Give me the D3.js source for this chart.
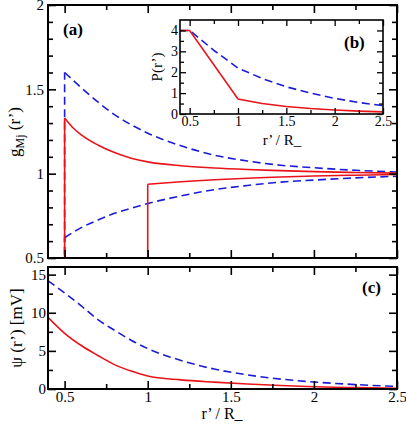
<!DOCTYPE html>
<html><head><meta charset="utf-8">
<script src="https://cdn.jsdelivr.net/npm/d3@7"></script>
<style>body{margin:0;background:#fff}svg{display:block}text{font-family:"Liberation Serif","Times New Roman",serif}</style>
</head><body>
<script>
// ---------- data ----------
// panel (a): pair distribution g_Mj(r')
const rG = [0.5, 0.55, 0.6, 0.7, 0.8, 0.9, 1.0, 1.2, 1.4, 1.6, 1.8, 2.0, 2.25, 2.5];
const gBlueUpper = [1.60, 1.555, 1.51, 1.425, 1.35, 1.29, 1.24, 1.165, 1.11, 1.075, 1.05, 1.035, 1.02, 1.01];
const gRedUpper  = [1.33, 1.272, 1.23, 1.17, 1.125, 1.092, 1.07, 1.047, 1.034, 1.025, 1.018, 1.012, 1.007, 1.003];
const gBlueLower = [0.62, 0.652, 0.68, 0.725, 0.765, 0.795, 0.823, 0.868, 0.905, 0.93, 0.95, 0.962, 0.975, 0.985];
const rGRedLower = [1.0, 1.2, 1.4, 1.6, 1.8, 2.0, 2.25, 2.5];
const gRedLower  = [0.937, 0.952, 0.964, 0.973, 0.98, 0.986, 0.991, 0.995];
// panel (b): P(r')
const rPRed  = [0.4, 0.5, 1.0, 1.25, 1.5, 1.75, 2.0, 2.25, 2.5];
const pRed   = [4, 4, 0.72, 0.5, 0.36, 0.26, 0.19, 0.14, 0.1];
const rPBlue = [0.4, 0.5, 0.75, 1.0, 1.25, 1.5, 1.75, 2.0, 2.25, 2.5];
const pBlue  = [4, 4, 3.05, 2.2, 1.7, 1.3, 1.0, 0.75, 0.55, 0.4];
// panel (c): psi(r') [mV]
const rPsi    = [0.4, 0.5, 0.6, 0.7, 0.8, 0.9, 1.0, 1.2, 1.4, 1.6, 1.8, 2.0, 2.25, 2.5];
const psiBlue = [14.2, 12.6, 10.9, 9.1, 7.7, 6.4, 5.3, 3.75, 2.62, 1.85, 1.3, 0.92, 0.58, 0.33];
const psiRed  = [9.4, 7.3, 5.7, 4.4, 3.2, 2.35, 1.7, 1.2, 0.9, 0.65, 0.45, 0.3, 0.18, 0.08];
// ticks
const xMajor = [0.5, 1, 1.5, 2, 2.5];
const xMinor = [0.75, 1.25, 1.75, 2.25];
const gMajor = [0.5, 1, 1.5, 2];
const gMinor = [0.6,0.7,0.8,0.9,1.1,1.2,1.3,1.4,1.6,1.7,1.8,1.9];
const psiMajor = [0, 5, 10, 15];
const psiMinor = [2.5, 7.5, 12.5];
const pMajor = [0, 1, 2, 3, 4];
const pMinor = [0.5, 1.5, 2.5, 3.5];

const RED = "#e8141a", BLUE = "#1c1cd8";

// ---------- scales ----------
const W = 406, H = 425;
const xMain = d3.scaleLinear().domain([0.4, 2.5]).range([48, 397]);
const yG = d3.scaleLinear().domain([0.5, 2]).range([258, 5]);
const yPsi = d3.scaleLinear().domain([0, 16]).range([389, 267]);
const xIn = d3.scaleLinear().domain([0.4, 2.5]).range([180, 383]);
const yIn = d3.scaleLinear().domain([0, 4.5]).range([114, 20]);

const svg = d3.select("body").append("svg").attr("width", W).attr("height", H);
const defs = svg.append("defs");

function clip(id, x, y) {
  defs.append("clipPath").attr("id", id).append("rect")
    .attr("x", x.range()[0]).attr("y", y.range()[1])
    .attr("width", x.range()[1] - x.range()[0]).attr("height", y.range()[0] - y.range()[1]);
}
clip("cA", xMain, yG); clip("cC", xMain, yPsi); clip("cB", xIn, yIn);

function frame(x, y, xMaj, xMin, yMaj, yMin, opt) {
  const g = svg.append("g");
  const [x0, x1] = x.range(), [y0, y1] = [y.range()[1], y.range()[0]];
  const M = opt.major, m = opt.minor, sw = opt.sw, fs = opt.fs;
  const fmt = d => d3.format("~g")(d);
  const add = (axis, tr, vals, len, labels) => {
    const a = g.append("g").attr("transform", tr)
      .call(axis.tickValues(vals).tickSizeInner(-len).tickSizeOuter(0).tickPadding(opt.pad)
        .tickFormat(labels ? fmt : ""));
    a.select(".domain").remove();
    a.selectAll(".tick line").attr("stroke", "#000").attr("stroke-width", opt.tw);
    a.selectAll(".tick text").attr("font-size", fs).attr("fill", "#000")
      .attr("font-family", "Liberation Serif");
    return a;
  };
  add(d3.axisBottom(x), `translate(0,${y1})`, xMaj, M, opt.xLabels);
  add(d3.axisBottom(x), `translate(0,${y1})`, xMin, m, false);
  add(d3.axisTop(x), `translate(0,${y0})`, xMaj, M, false);
  add(d3.axisTop(x), `translate(0,${y0})`, xMin, m, false);
  add(d3.axisLeft(y), `translate(${x0},0)`, yMaj, M, true);
  add(d3.axisLeft(y), `translate(${x0},0)`, yMin, m, false);
  add(d3.axisRight(y), `translate(${x1},0)`, yMaj, M, false);
  add(d3.axisRight(y), `translate(${x1},0)`, yMin, m, false);
  g.append("rect").attr("x", x0).attr("y", y0).attr("width", x1 - x0).attr("height", y1 - y0)
    .attr("fill", "none").attr("stroke", "#000").attr("stroke-width", sw);
  return g;
}

const mono = (x, y) => d3.line().x(d => x(d[0])).y(d => y(d[1])).curve(d3.curveMonotoneX);
const lin = (x, y) => d3.line().x(d => x(d[0])).y(d => y(d[1]));
const zip = (a, b) => a.map((v, i) => [v, b[i]]);

function series(layer, x, y, rs, vs, color, dashed, dropTo) {
  const pts = zip(rs, vs);
  const style = p => p.attr("fill", "none").attr("stroke", color).attr("stroke-width", 1.6)
    .attr("stroke-dasharray", dashed ? "8,4.5" : null);
  if (dropTo !== undefined) {
    style(layer.append("path").attr("d", lin(x, y)([[rs[0], dropTo], pts[0]])));
  }
  style(layer.append("path").attr("d", mono(x, y)(pts)));
}

// ---------- panel (a) ----------
const gA = svg.append("g").attr("clip-path", "url(#cA)");
series(gA, xMain, yG, rG, gBlueUpper, BLUE, true, 0);
series(gA, xMain, yG, rG, gBlueLower, BLUE, true, 0);
series(gA, xMain, yG, rG, gRedUpper, RED, false, 0);
series(gA, xMain, yG, rGRedLower, gRedLower, RED, false, 0);
frame(xMain, yG, xMajor, xMinor, gMajor, gMinor,
  {major: 8, minor: 5, sw: 2, tw: 1.6, fs: 15, pad: 4, xLabels: false});

// ---------- panel (c) ----------
const gC = svg.append("g").attr("clip-path", "url(#cC)");
series(gC, xMain, yPsi, rPsi, psiBlue, BLUE, true);
series(gC, xMain, yPsi, rPsi, psiRed, RED, false);
frame(xMain, yPsi, xMajor, xMinor, psiMajor, psiMinor,
  {major: 8, minor: 5, sw: 2, tw: 1.6, fs: 15, pad: 2, xLabels: true});

// ---------- inset (b) ----------
svg.append("rect").attr("x", xIn.range()[0]).attr("y", yIn.range()[1])
  .attr("width", xIn.range()[1] - xIn.range()[0]).attr("height", yIn.range()[0] - yIn.range()[1])
  .attr("fill", "#fff");
const gB = svg.append("g").attr("clip-path", "url(#cB)");
gB.append("path").attr("d", lin(xIn, yIn)(zip(rPBlue, pBlue))).attr("fill", "none")
  .attr("stroke", BLUE).attr("stroke-width", 1.6).attr("stroke-dasharray", "8,4.5");
gB.append("path").attr("d", lin(xIn, yIn)(zip(rPRed, pRed))).attr("fill", "none")
  .attr("stroke", RED).attr("stroke-width", 1.6);
frame(xIn, yIn, xMajor, xMinor, pMajor, pMinor,
  {major: 6, minor: 4, sw: 1.6, tw: 1.3, fs: 14, pad: 2, xLabels: true});

// ---------- labels ----------
const lab = (t, x, y, fs, opts = {}) => svg.append("text").attr("x", x).attr("y", y)
  .attr("font-size", fs).attr("text-anchor", opts.anchor || "start")
  .attr("font-weight", opts.bold ? "bold" : null)
  .attr("transform", opts.rot ? `rotate(-90,${x},${y})` : null).text(t);

lab("(a)", 63, 35, 17, {bold: true});
lab("(b)", 344, 48, 17, {bold: true});
lab("(c)", 362, 293, 17, {bold: true});

lab("r\u2019 / R_", 222, 419, 16, {anchor: "middle"});
lab("r\u2019 / R_", 282, 145, 15, {anchor: "middle"});
lab("P(r\u2019)", 162, 67, 15, {anchor: "middle", rot: true});
lab("\u03c8 (r\u2019) [mV]", 22, 328, 17, {anchor: "middle", rot: true});

const gl = svg.append("text").attr("x", 20).attr("y", 132).attr("font-size", 17)
  .attr("text-anchor", "middle").attr("transform", "rotate(-90,20,132)");
gl.append("tspan").text("g");
gl.append("tspan").attr("font-size", 12).attr("dy", 4).text("Mj");
gl.append("tspan").attr("dy", -4).text(" (r\u2019)");
</script>
</body></html>
